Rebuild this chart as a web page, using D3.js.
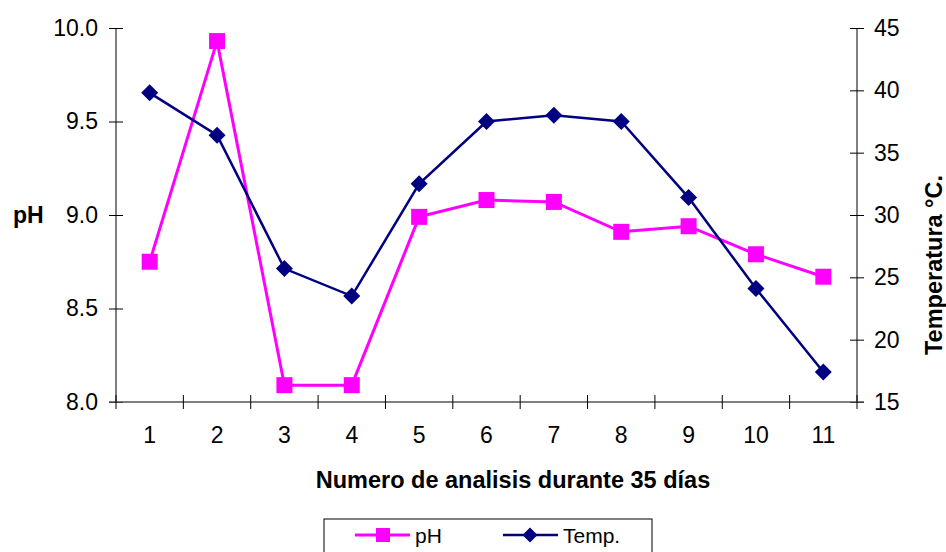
<!DOCTYPE html>
<html><head><meta charset="utf-8">
<script src="https://cdn.jsdelivr.net/npm/d3@7/dist/d3.min.js"></script>
<style>body{margin:0;background:#fff}svg{display:block;font-family:Arial,"Liberation Sans",sans-serif}</style>
</head><body>
<svg id="chart" width="946" height="552"></svg>
<script>
const categories = ["1","2","3","4","5","6","7","8","9","10","11"];
const phValues = [8.75, 9.93, 8.09, 8.09, 8.99, 9.08, 9.07, 8.91, 8.94, 8.79, 8.67];
const tempValues = [39.8, 36.4, 25.7, 23.5, 32.5, 37.5, 38.0, 37.5, 31.4, 24.1, 17.4];
const phTicks = [8.0, 8.5, 9.0, 9.5, 10.0];
const tempTicks = [15, 20, 25, 30, 35, 40, 45];

const svg = d3.select("#chart");
const L = 116, R = 857, T = 28, B = 402;
const pink = "#FF00FF", navy = "#000080";
const FF = "Arial, 'Liberation Sans', sans-serif";

const x = d3.scaleBand().domain(categories).range([L, R]).padding(0);
const yPh = d3.scaleLinear().domain([8, 10]).range([B, T]);
const yT = d3.scaleLinear().domain([15, 45]).range([B, T]);
const cx = d => x(d) + x.bandwidth() / 2;

// left axis
const gl = svg.append("g").attr("transform", `translate(${L},0)`)
  .call(d3.axisLeft(yPh).tickValues(phTicks).tickFormat(d3.format(".1f")).tickSize(7).tickPadding(11));
gl.select(".domain").attr("stroke", "#000").attr("d", `M0,${T}V${B}`);
gl.selectAll(".tick line").attr("x1", 7).attr("stroke", "#000");
gl.selectAll(".tick text").attr("font-size", 23).attr("fill", "#000").attr("font-family", FF);

// right axis
const gr = svg.append("g").attr("transform", `translate(${R},0)`)
  .call(d3.axisRight(yT).tickValues(tempTicks).tickSize(7).tickPadding(10));
gr.select(".domain").attr("stroke", "#000").attr("d", `M0,${T}V${B}`);
gr.selectAll(".tick line").attr("x1", -7).attr("stroke", "#000");
gr.selectAll(".tick text").attr("font-size", 23).attr("fill", "#000").attr("font-family", FF);

// bottom axis
const gb = svg.append("g").attr("transform", `translate(0,${B})`)
  .call(d3.axisBottom(x).tickSize(0).tickPadding(25));
gb.select(".domain").attr("stroke", "#555").attr("stroke-width", 1.5).attr("d", `M${L - 7},0H${R + 7}`);
gb.selectAll(".tick text").attr("font-size", 23).attr("fill", "#000").attr("font-family", FF);
const edges = categories.map(c => x(c)).concat([R]);
gb.selectAll("line.edge").data(edges).join("line").attr("class", "edge")
  .attr("x1", d => d).attr("x2", d => d).attr("y1", -7).attr("y2", 7)
  .attr("stroke", "#000");

// axis titles
svg.append("text").attr("x", 13).attr("y", 223).attr("font-size", 23).attr("font-weight", "bold").text("pH");
svg.append("text").attr("transform", "translate(942,265) rotate(-90)").attr("text-anchor", "middle")
  .attr("font-size", 23.5).attr("font-weight", "bold").text("Temperatura °C.");
svg.append("text").attr("x", 513).attr("y", 488).attr("text-anchor", "middle")
  .attr("font-size", 23.5).attr("font-weight", "bold").text("Numero de analisis durante 35 días");

// pH series
svg.append("path").datum(phValues)
  .attr("fill", "none").attr("stroke", pink).attr("stroke-width", 3)
  .attr("d", d3.line().x((d, i) => cx(categories[i])).y(d => yPh(d)));
svg.selectAll("rect.ph").data(phValues).join("rect").attr("class", "ph")
  .attr("x", (d, i) => cx(categories[i]) - 8).attr("y", d => yPh(d) - 8)
  .attr("width", 16).attr("height", 16).attr("fill", pink);

// Temp series
svg.append("path").datum(tempValues)
  .attr("fill", "none").attr("stroke", navy).attr("stroke-width", 2.5)
  .attr("d", d3.line().x((d, i) => cx(categories[i])).y(d => yT(d)));
const diamond = "M0,-8.5L8.5,0L0,8.5L-8.5,0Z";
svg.selectAll("path.tp").data(tempValues).join("path").attr("class", "tp")
  .attr("transform", (d, i) => `translate(${cx(categories[i])},${yT(d)})`)
  .attr("d", diamond).attr("fill", navy);

// legend
const lg = svg.append("g");
lg.append("rect").attr("x", 324).attr("y", 519).attr("width", 328).attr("height", 45)
  .attr("fill", "#fff").attr("stroke", "#000").attr("stroke-width", 1);
lg.append("line").attr("x1", 355).attr("x2", 410).attr("y1", 535).attr("y2", 535).attr("stroke", pink).attr("stroke-width", 3);
lg.append("rect").attr("x", 376).attr("y", 528).attr("width", 14).attr("height", 14).attr("fill", pink);
lg.append("text").attr("x", 415).attr("y", 543).attr("font-size", 21).text("pH");
lg.append("line").attr("x1", 503).attr("x2", 558).attr("y1", 535).attr("y2", 535).attr("stroke", navy).attr("stroke-width", 2.5);
lg.append("path").attr("transform", "translate(530,535)").attr("d", "M0,-7.5L7.5,0L0,7.5L-7.5,0Z").attr("fill", navy);
lg.append("text").attr("x", 563).attr("y", 543).attr("font-size", 21).text("Temp.");
</script>
</body></html>
